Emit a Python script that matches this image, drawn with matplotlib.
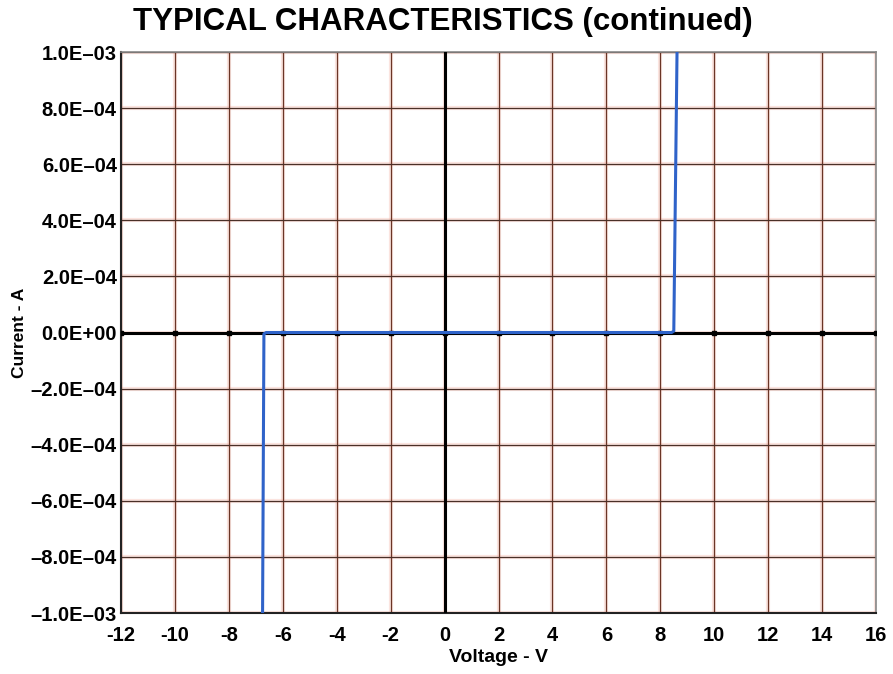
import matplotlib.pyplot as plt

plt.rcParams['font.family'] = ['Liberation Sans', 'DejaVu Sans']

# tick values
x_ticks = [-12, -10, -8, -6, -4, -2, 0, 2, 4, 6, 8, 10, 12, 14, 16]
y_ticks = [-1.0e-3, -8.0e-4, -6.0e-4, -4.0e-4, -2.0e-4, 0.0, 2.0e-4, 4.0e-4, 6.0e-4, 8.0e-4, 1.0e-3]
y_labels = ['–1.0E–03', '–8.0E–04', '–6.0E–04', '–4.0E–04', '–2.0E–04', '0.0E+00',
            '2.0E–04', '4.0E–04', '6.0E–04', '8.0E–04', '1.0E–03']

# I-V curve
voltage = [-6.75, -6.70, -6.62, 8.42, 8.50, 8.62]
current = [-1.0e-3, -5.0e-6, 0.0, 0.0, 5.0e-6, 1.0e-3]

fig = plt.figure(figsize=(8.93, 6.74), dpi=100)
ax = fig.add_axes([0.1355, 0.0905, 0.8455, 0.8323])

# grid: dark thin line with a faint reddish glow
for x in x_ticks:
    ax.axvline(x, color='#f3a898', lw=3.0, alpha=0.3, zorder=1)
    ax.axvline(x, color='#6a3526', lw=0.9, zorder=2)
for y in y_ticks:
    ax.axhline(y, color='#f3a898', lw=3.0, alpha=0.3, zorder=1)
    ax.axhline(y, color='#4a3028', lw=0.9, zorder=2)

# zero axes
ax.axhline(0, color='black', lw=2.2, zorder=3)
ax.axvline(0, color='black', lw=2.2, zorder=3)
ax.plot(x_ticks, [0] * len(x_ticks), 's', color='black', ms=3, zorder=3)

ax.plot(voltage, current, color='#2f63c9', lw=2.2, zorder=4)

ax.set_xlim(-12, 16)
ax.set_ylim(-1.0e-3, 1.0e-3)
ax.set_xticks(x_ticks)
ax.set_xticklabels([str(v) for v in x_ticks])
ax.set_yticks(y_ticks)
ax.set_yticklabels(y_labels)
ax.tick_params(length=0, labelsize=14.5)
ax.tick_params(axis='x', pad=9)
ax.tick_params(axis='y', pad=3)
for lab in ax.get_xticklabels() + ax.get_yticklabels():
    lab.set_fontweight('bold')

for s in ['left', 'bottom']:
    ax.spines[s].set_color('#222222')
    ax.spines[s].set_linewidth(1.5)
for s in ['top', 'right']:
    ax.spines[s].set_color('#888888')
    ax.spines[s].set_linewidth(1.2)

ax.set_xlabel('Voltage - V', fontsize=14, fontweight='bold', labelpad=3)
ax.set_ylabel('Current - A', fontsize=12.5, fontweight='bold')
ax.yaxis.set_label_coords(-0.124, 0.5)

fig.text(0.496, 0.956, 'TYPICAL CHARACTERISTICS (continued)', ha='center', va='baseline',
         fontsize=22.5, fontweight='bold')

fig.savefig('out.png', dpi=100)
